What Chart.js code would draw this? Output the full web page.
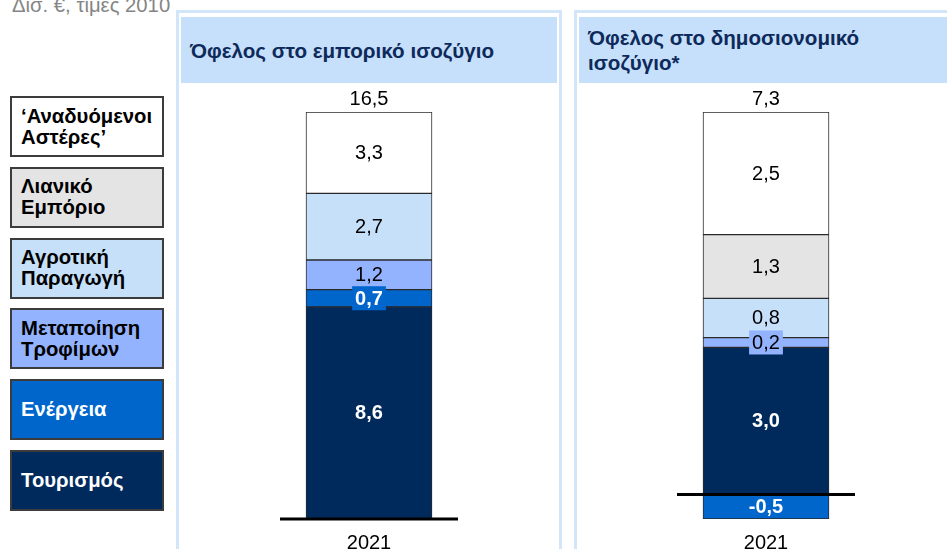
<!DOCTYPE html>
<html>
<head>
<meta charset="utf-8">
<script src="https://cdn.jsdelivr.net/npm/chart.js@4.4.1/dist/chart.umd.min.js"></script>
<style>
  body { margin: 0; width: 947px; height: 549px; overflow: hidden; background: #fff;
         position: relative; font-family: "Liberation Sans", Arial, sans-serif; }
  #unit { position: absolute; left: 12px; top: -6px; font-size: 20.3px; line-height: 23px; color: #858585; white-space: nowrap; }
  .panel { position: absolute; top: 10px; height: 600px; border: 3px solid #d3e5f8; box-sizing: border-box; }
  .head { position: absolute; top: 17px; height: 66px; background: #c6dffa; color: #0d2a5a;
          font-weight: bold; font-size: 20.6px; box-sizing: border-box; padding-left: 9px;
          display: flex; align-items: center; line-height: 25px; }
  .lg { position: absolute; left: 10px; width: 154px; height: 61px; box-sizing: border-box;
        border: 2px solid #3c3c3c; padding-left: 9px; display: flex; align-items: center;
        font-weight: bold; font-size: 20.3px; line-height: 21px; white-space: pre-line; }
  canvas { position: absolute; top: 85px; }
</style>
</head>
<body>
<div id="unit">Δισ. €, τιμές 2010</div>
<div id="legend"></div>

<div class="panel" style="left:176px;width:386px"></div>
<div class="head" style="left:181px;width:376px">Όφελος στο εμπορικό ισοζύγιο</div>
<div class="panel" style="left:574px;width:400px"></div>
<div class="head" style="left:579px;width:380px">Όφελος στο δημοσιονομικό<br>ισοζύγιο*</div>

<canvas id="chartTrade" width="376" height="474" style="left:181px"></canvas>
<canvas id="chartFiscal" width="372" height="474" style="left:580px"></canvas>

<script>
const years = ['2021'];
const sectors = ['Τουρισμός', 'Ενέργεια', 'Μεταποίηση\nΤροφίμων', 'Αγροτική\nΠαραγωγή', 'Λιανικό\nΕμπόριο', '‘Αναδυόμενοι\nΑστέρες’'];
const tradeValues = [8.6, 0.7, 1.2, 2.7, null, 3.3];
const fiscalValues = [3.0, -0.5, 0.2, 0.8, 1.3, 2.5];

const colors = ['#002a5c', '#0066cc', '#94b3ff', '#c6e0fa', '#e4e4e4', '#ffffff'];
const textColors = ['#fff', '#fff', '#000', '#000', '#000', '#000'];
const boldText = [true, true, false, false, false, false];

const font = '"Liberation Sans", Arial, sans-serif';

function fmt(v) {
  return v.toFixed(1).replace('.', ',');
}

// legend boxes, top to bottom in reverse stack order
const legend = document.getElementById('legend');
for (let k = sectors.length - 1, row = 0; k >= 0; k--, row++) {
  const d = document.createElement('div');
  d.className = 'lg';
  d.style.top = (96 + row * 70.8) + 'px';
  d.style.background = colors[k];
  d.style.color = textColors[k];
  d.textContent = sectors[k];
  legend.appendChild(d);
}

const barLabels = {
  id: 'barLabels',
  afterDatasetsDraw(chart) {
    const ctx = chart.ctx;
    const ys = chart.scales.y;
    const area = chart.chartArea;
    ctx.save();

    // zero line
    const y0 = ys.getPixelForValue(0);
    ctx.strokeStyle = '#000';
    ctx.lineWidth = 3;
    ctx.beginPath();
    ctx.moveTo(area.left, y0);
    ctx.lineTo(area.right, y0);
    ctx.stroke();

    ctx.textAlign = 'center';
    ctx.textBaseline = 'middle';
    let top = 0, total = 0, cx = 0;
    chart.data.datasets.forEach((ds, i) => {
      const meta = chart.getDatasetMeta(i);
      meta.data.forEach((bar, j) => {
        const v = ds.data[j];
        if (v == null) return;
        total += v;
        if (v > 0) top += v;
        cx = bar.x;
        const cy = (bar.y + bar.base) / 2;
        const h = Math.abs(bar.base - bar.y);
        ctx.font = (boldText[i] ? 'bold ' : '') + '20px ' + font;
        const txt = fmt(v);
        if (h < 20) {
          const w = ctx.measureText(txt).width + 6;
          ctx.fillStyle = ds.backgroundColor;
          ctx.fillRect(bar.x - w / 2, cy - 12, w, 24);
        }
        ctx.fillStyle = textColors[i];
        ctx.fillText(txt, bar.x, cy + 1);
      });
    });

    // total on top
    ctx.font = '20px ' + font;
    ctx.fillStyle = '#000';
    ctx.fillText(fmt(total), cx, ys.getPixelForValue(top) - 13);
    ctx.restore();
  }
};

function makeChart(id, values, pad) {
  const pos = values.filter(v => v > 0).reduce((a, b) => a + b, 0);
  const neg = values.filter(v => v < 0).reduce((a, b) => a + b, 0);
  new Chart(document.getElementById(id), {
    type: 'bar',
    data: {
      labels: years,
      datasets: sectors.map((s, i) => ({
        label: s,
        data: [values[i]],
        backgroundColor: colors[i],
        borderColor: '#2a2a2a',
        borderWidth: 1,
        borderSkipped: false,
        barThickness: 126
      }))
    },
    options: {
      responsive: false,
      animation: false,
      layout: { padding: { top: 27, left: pad, right: pad, bottom: 0 } },
      plugins: { legend: { display: false }, tooltip: { enabled: false } },
      scales: {
        x: {
          stacked: true,
          grid: { display: false },
          border: { display: false },
          ticks: { color: '#000', padding: 4, font: { size: 20, family: font } }
        },
        y: {
          stacked: true,
          display: false,
          min: Math.round(neg * 10) / 10,
          max: Math.round(pos * 10) / 10
        }
      }
    },
    plugins: [barLabels]
  });
}

makeChart('chartTrade', tradeValues, 99);
makeChart('chartFiscal', fiscalValues, 97);
</script>
</body>
</html>
